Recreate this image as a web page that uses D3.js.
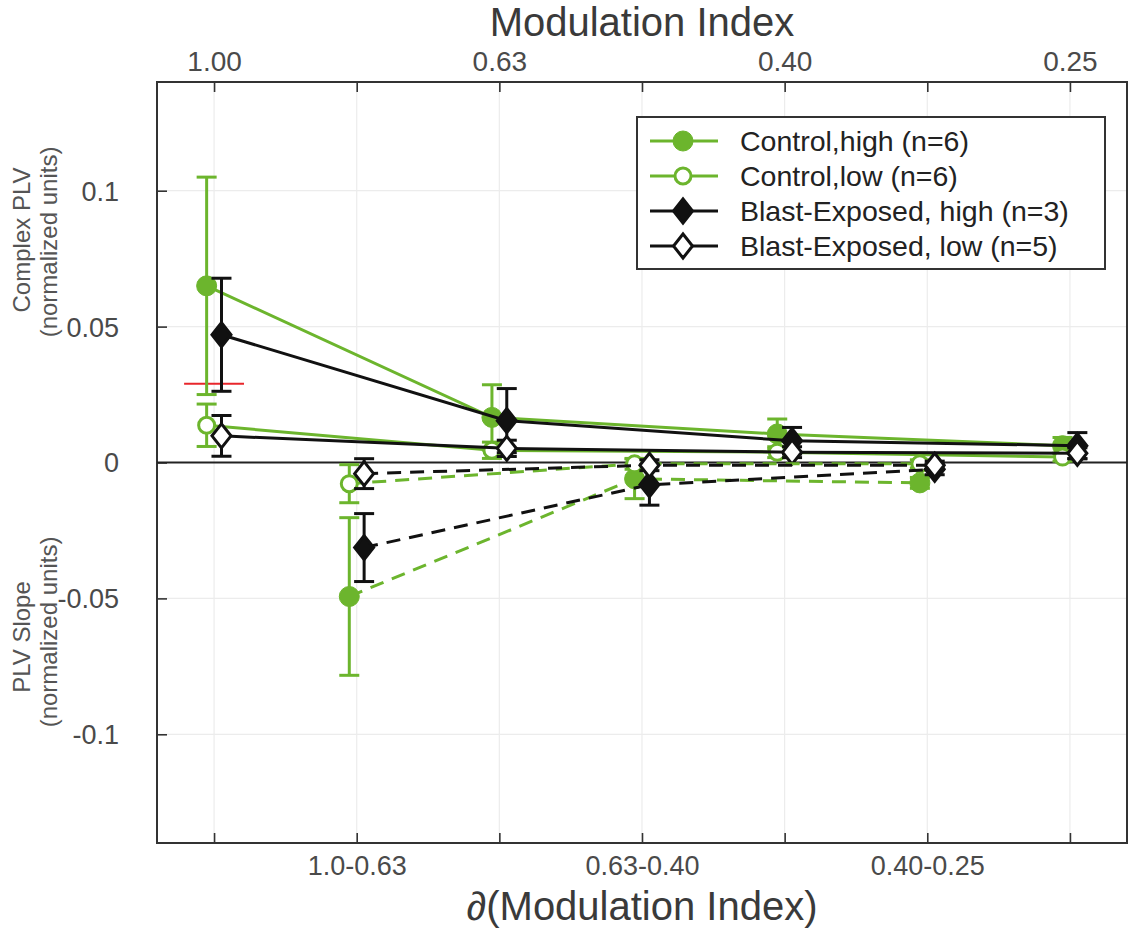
<!DOCTYPE html>
<html>
<head>
<meta charset="utf-8">
<script src="https://cdn.jsdelivr.net/npm/d3@7"></script>
<style>
  html, body { margin: 0; padding: 0; background: #fff; }
  svg { display: block; font-family: "Liberation Sans", Arial, Helvetica, sans-serif; }
</style>
</head>
<body>
<svg id="chart" width="1132" height="931"></svg>
<script>
// Top axis: modulation index at the odd positions
const topPositions = [1, 3, 5, 7];
const topTickLabels = ["1.00", "0.63", "0.40", "0.25"];
// Bottom axis: differences between neighbouring modulation indices
const bottomPositions = [2, 4, 6];
const bottomTickLabels = ["1.0-0.63", "0.63-0.40", "0.40-0.25"];
const yTickValues = [0.1, 0.05, 0, -0.05, -0.1];
const yTickLabels = ["0.1", "0.05", "0", "-0.05", "-0.1"];

// Complex PLV (upper half, solid lines)
const plvControlHigh = [0.065, 0.0166, 0.0105, 0.0062];
const plvControlHighErr = [0.040, 0.012, 0.0055, 0.003];
const plvControlLow = [0.0137, 0.0045, 0.0038, 0.002];
const plvControlLowErr = [0.0078, 0.003, 0.002, 0.0015];
const plvBlastHigh = [0.047, 0.0154, 0.008, 0.0062];
const plvBlastHighErr = [0.0208, 0.0118, 0.0049, 0.0048];
const plvBlastLow = [0.0098, 0.0052, 0.0038, 0.0034];
const plvBlastLowErr = [0.0075, 0.003, 0.002, 0.002];

// PLV slope (lower half, dashed lines)
const slopeControlHigh = [-0.0493, -0.006, -0.0075];
const slopeControlHighErr = [0.029, 0.0073, 0.002];
const slopeControlLow = [-0.0078, -0.0005, -0.0005];
const slopeControlLowErr = [0.007, 0.002, 0.0015];
const slopeBlastHigh = [-0.0313, -0.0082, -0.0025];
const slopeBlastHighErr = [0.0125, 0.0075, 0.002];
const slopeBlastLow = [-0.0041, -0.001, -0.001];
const slopeBlastLowErr = [0.0055, 0.002, 0.0015];

// Short red reference mark at the first modulation index
const redMarkValue = 0.029;

const legendLabels = [
  "Control,high (n=6)",
  "Control,low (n=6)",
  "Blast-Exposed, high (n=3)",
  "Blast-Exposed, low (n=5)"
];

const GREEN = "#6cb52d";
const BLACK = "#111111";

const svg = d3.select("#chart");
const plot = { left: 157, right: 1127, top: 82, bottom: 843 };

const x = d3.scaleLinear().domain([0.6, 7.4]).range([plot.left, plot.right]);
const y = d3.scaleLinear().domain([-0.14, 0.14]).range([plot.bottom, plot.top]);

const allPositions = d3.range(1, 8);

// Grid
const grid = svg.append("g");
grid.selectAll("line.gx").data(allPositions).join("line")
  .attr("x1", d => x(d)).attr("x2", d => x(d))
  .attr("y1", plot.top).attr("y2", plot.bottom)
  .attr("stroke", "#ececec").attr("stroke-width", 1.2);
grid.selectAll("line.gy").data(yTickValues).join("line")
  .attr("x1", plot.left).attr("x2", plot.right)
  .attr("y1", d => y(d)).attr("y2", d => y(d))
  .attr("stroke", "#ececec").attr("stroke-width", 1.2);

// Axes with inward ticks
const tickColor = "#4a4a4a";
const axTop = d3.axisTop(x).tickValues(allPositions).tickSize(-10)
  .tickFormat(d => { const i = topPositions.indexOf(d); return i >= 0 ? topTickLabels[i] : ""; });
const axBottom = d3.axisBottom(x).tickValues(allPositions).tickSize(-10)
  .tickFormat(d => { const i = bottomPositions.indexOf(d); return i >= 0 ? bottomTickLabels[i] : ""; });
const axLeft = d3.axisLeft(y).tickValues(yTickValues).tickSize(-10)
  .tickFormat((d, i) => yTickLabels[i]);

function styleAxis(g) {
  g.select(".domain").remove();
  g.selectAll(".tick line").attr("stroke", "#333").attr("stroke-width", 1.6);
  g.selectAll(".tick text").attr("fill", tickColor)
    .style("font-family", "'Liberation Sans', Arial, sans-serif");
}

svg.append("g").attr("transform", `translate(0,${plot.top})`).call(axTop).call(styleAxis)
  .call(g => g.selectAll(".tick text").attr("font-size", 28).attr("dy", 0).attr("y", -11));
svg.append("g").attr("transform", `translate(0,${plot.bottom})`).call(axBottom).call(styleAxis)
  .call(g => g.selectAll(".tick text").attr("font-size", 27).attr("dy", 0).attr("y", 32));
svg.append("g").attr("transform", `translate(${plot.left},0)`).call(axLeft).call(styleAxis)
  .call(g => g.selectAll(".tick text").attr("font-size", 27).attr("x", -38).attr("dy", "0.35em"));

// Frame
svg.append("rect")
  .attr("x", plot.left).attr("y", plot.top)
  .attr("width", plot.right - plot.left).attr("height", plot.bottom - plot.top)
  .attr("fill", "none").attr("stroke", "#333").attr("stroke-width", 2);

// Zero line
svg.append("line")
  .attr("x1", plot.left).attr("x2", plot.right)
  .attr("y1", y(0)).attr("y2", y(0))
  .attr("stroke", "#222").attr("stroke-width", 2);

// Red reference mark
svg.append("line")
  .attr("x1", x(1 - 0.21)).attr("x2", x(1 + 0.21))
  .attr("y1", y(redMarkValue)).attr("y2", y(redMarkValue))
  .attr("stroke", "#e8262b").attr("stroke-width", 2);

// Series definitions
const OFF_C = -0.052, OFF_B = 0.052;
const series = [
  { pos: topPositions, vals: plvControlHigh, err: plvControlHighErr, color: GREEN, shape: "circle", filled: true, off: OFF_C, dash: null },
  { pos: topPositions, vals: plvControlLow, err: plvControlLowErr, color: GREEN, shape: "circle", filled: false, off: OFF_C, dash: null },
  { pos: topPositions, vals: plvBlastHigh, err: plvBlastHighErr, color: BLACK, shape: "diamond", filled: true, off: OFF_B, dash: null },
  { pos: topPositions, vals: plvBlastLow, err: plvBlastLowErr, color: BLACK, shape: "diamond", filled: false, off: OFF_B, dash: null },
  { pos: bottomPositions, vals: slopeControlHigh, err: slopeControlHighErr, color: GREEN, shape: "circle", filled: true, off: OFF_C, dash: "14,9" },
  { pos: bottomPositions, vals: slopeControlLow, err: slopeControlLowErr, color: GREEN, shape: "circle", filled: false, off: OFF_C, dash: "14,9" },
  { pos: bottomPositions, vals: slopeBlastHigh, err: slopeBlastHighErr, color: BLACK, shape: "diamond", filled: true, off: OFF_B, dash: "14,9" },
  { pos: bottomPositions, vals: slopeBlastLow, err: slopeBlastLowErr, color: BLACK, shape: "diamond", filled: false, off: OFF_B, dash: "14,9" }
];

const line = d3.line().x(d => x(d.p)).y(d => y(d.v));
const diamondPath = "M0,-12L9.5,0L0,12L-9.5,0Z";

function drawMarker(g, s, cx, cy) {
  if (s.shape === "circle") {
    g.append("circle").attr("cx", cx).attr("cy", cy)
      .attr("r", s.filled ? 10 : 8)
      .attr("fill", s.filled ? s.color : "#fff")
      .attr("stroke", s.color).attr("stroke-width", s.filled ? 1 : 3);
  } else {
    g.append("path").attr("d", diamondPath)
      .attr("transform", `translate(${cx},${cy})`)
      .attr("fill", s.filled ? s.color : "#fff")
      .attr("stroke", s.color).attr("stroke-width", 3)
      .attr("stroke-linejoin", "miter");
  }
}

const dataLayer = svg.append("g");
series.forEach(s => {
  const g = dataLayer.append("g");
  const pts = s.pos.map((p, i) => ({ p: p + s.off, v: s.vals[i], e: s.err[i] }));
  g.append("path").datum(pts).attr("d", line)
    .attr("fill", "none").attr("stroke", s.color).attr("stroke-width", 3)
    .attr("stroke-dasharray", s.dash);
  pts.forEach(d => {
    const cx = x(d.p);
    g.append("line").attr("x1", cx).attr("x2", cx)
      .attr("y1", y(d.v - d.e)).attr("y2", y(d.v + d.e))
      .attr("stroke", s.color).attr("stroke-width", 3);
    [d.v - d.e, d.v + d.e].forEach(v => {
      g.append("line").attr("x1", cx - 10).attr("x2", cx + 10)
        .attr("y1", y(v)).attr("y2", y(v))
        .attr("stroke", s.color).attr("stroke-width", 3);
    });
  });
  pts.forEach(d => drawMarker(g, s, x(d.p), y(d.v)));
});

// Legend
const legend = svg.append("g");
legend.append("rect").attr("x", 637).attr("y", 117).attr("width", 468).attr("height", 152)
  .attr("fill", "#fff").attr("stroke", "#333").attr("stroke-width", 2);
const legendSeries = series.slice(0, 4);
legendSeries.forEach((s, i) => {
  const ly = 141 + i * 35;
  legend.append("line").attr("x1", 650).attr("x2", 718).attr("y1", ly).attr("y2", ly)
    .attr("stroke", s.color).attr("stroke-width", 3);
  drawMarker(legend, s, 683, ly);
  legend.append("text").attr("x", 740).attr("y", ly).attr("dy", "0.35em")
    .attr("font-size", 28.5).attr("fill", "#222").text(legendLabels[i]);
});

// Titles
svg.append("text").attr("x", (plot.left + plot.right) / 2).attr("y", 36)
  .attr("text-anchor", "middle").attr("font-size", 40).attr("fill", "#3a3a3a")
  .text("Modulation Index");
svg.append("text").attr("x", (plot.left + plot.right) / 2).attr("y", 920)
  .attr("text-anchor", "middle").attr("font-size", 40).attr("fill", "#3a3a3a")
  .text("∂(Modulation Index)");

function yLabel(text, cx, cy) {
  svg.append("text").attr("transform", `translate(${cx},${cy}) rotate(-90)`)
    .attr("text-anchor", "middle").attr("font-size", 24).attr("fill", "#555").text(text);
}
yLabel("Complex PLV", 30, 240);
yLabel("(normalized units)", 57, 242);
yLabel("PLV Slope", 30, 637);
yLabel("(normalized units)", 57, 632);
</script>
</body>
</html>
